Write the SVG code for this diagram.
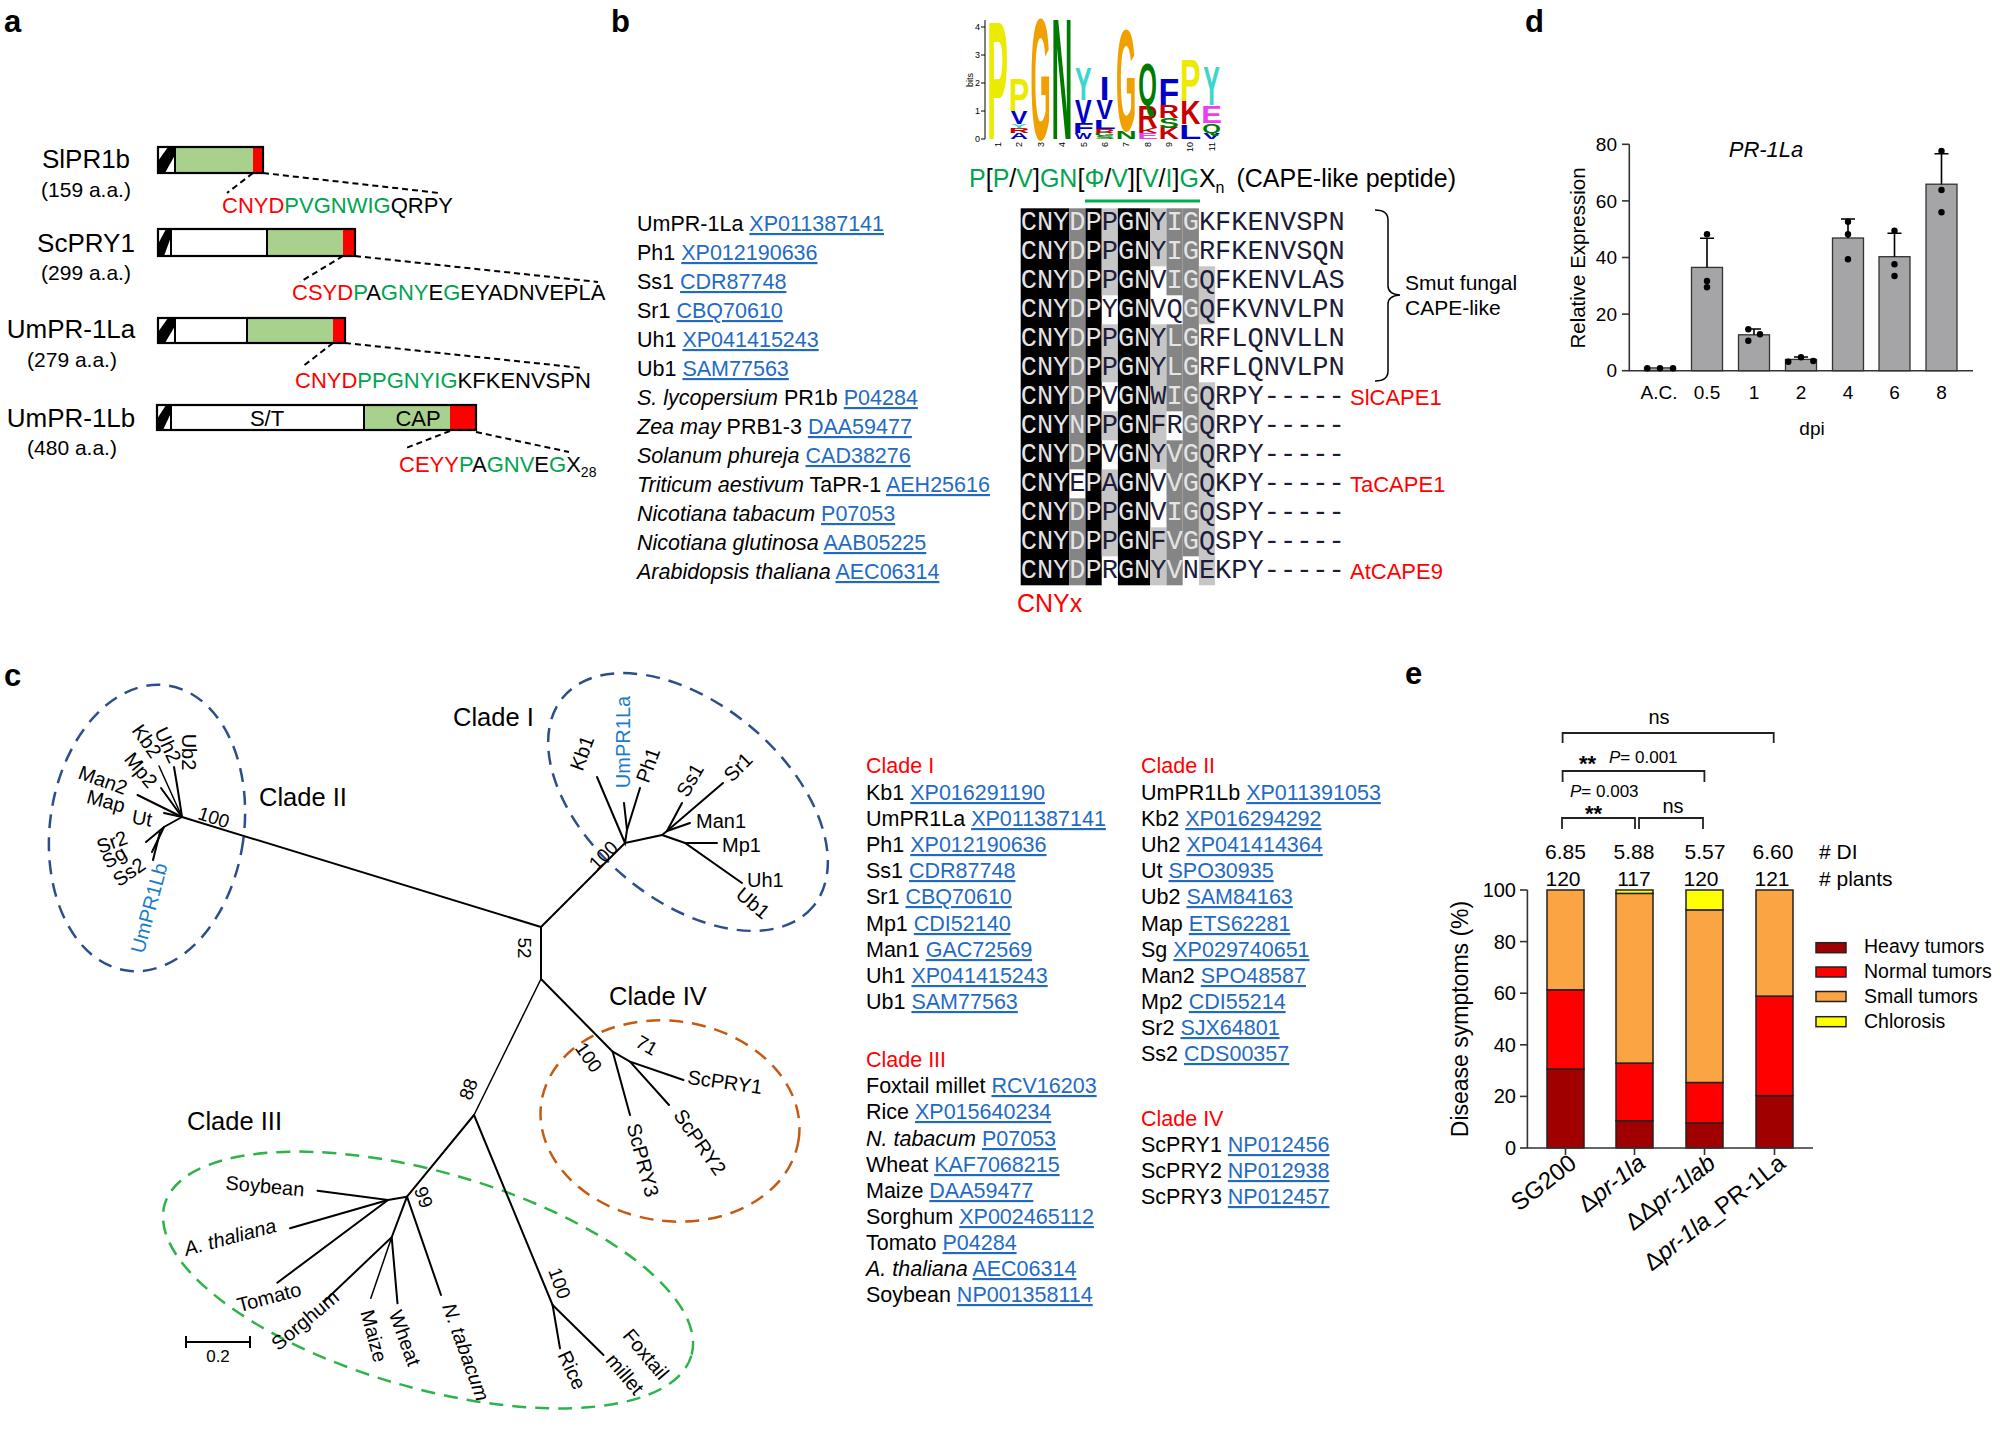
<svg xmlns="http://www.w3.org/2000/svg" width="2000" height="1430" viewBox="0 0 2000 1430">
<style>
text{font-family:"Liberation Sans",Arial,sans-serif;fill:#000}
.pl{font-weight:bold;font-size:31px}
.lab{font-size:26px}
.aa{font-size:21px}
.seq{font-size:22px}
.r{fill:#FF0000}
.g{fill:#00A550}
.bx{stroke:#000;stroke-width:2.2;fill:none}
.dsh{stroke:#000;stroke-width:2;stroke-dasharray:6 4;fill:none}
.lst{font-size:21.5px}
.lnk{fill:#1F6BC4;text-decoration:underline}
.it{font-style:italic}
text.mono{font-family:"Liberation Mono","Courier New",monospace;font-size:27px}
.lt1{fill:#E4E4E4}
.dk1{fill:#1C1C38}
.cB{fill:#000}
.cD{fill:#858585}
.cL{fill:#C6C6C6}
.logo{font-size:10px;font-weight:bold}
.ly{fill:#EBEB00}.lo{fill:#F0A000}.lg{fill:#007A00}.ltl{fill:#3CD6CC}.lb{fill:#0000C8}.lr{fill:#C80000}.lm{fill:#F03CF0}
.tiny{font-size:9px}
.tree{stroke:#000;stroke-width:2;fill:none;stroke-linecap:round}
.leaf{font-size:20px}
.clade{font-size:25.5px}
.boot{font-size:19px}
.blue{fill:#1A7CC8}
.ax{stroke:#333;stroke-width:1.6;fill:none}
.tk{font-size:19px}
.bar{fill:#A5A5A8;stroke:#333;stroke-width:1.3}
.eb{stroke:#000;stroke-width:1.6;fill:none}
.e20{font-size:20px}
.bk{stroke:#222;stroke-width:1.8;fill:none}
.hv{fill:#A00000}.nm{fill:#FF0000}.sm{fill:#FBA444}.ch{fill:#FFFF00}
.stk{stroke:#222;stroke-width:1.5}
</style>

<!-- panel labels -->
<text class="pl" x="4" y="32">a</text>
<text class="pl" x="611" y="32">b</text>
<text class="pl" x="1525" y="32">d</text>
<text class="pl" x="4" y="686">c</text>
<text class="pl" x="1405" y="684">e</text>

<!-- ===== Panel a ===== -->
<g id="a-slpr1b">
<text class="lab" x="86" y="168" text-anchor="middle">SlPR1b</text>
<text class="aa" x="86" y="197" text-anchor="middle">(159 a.a.)</text>
<rect x="158" y="147" width="17" height="26" fill="#fff"/>
<polygon points="158,173 158,161 168,147 175,147 175,155 165,173" fill="#000"/>
<rect x="175" y="147" width="78" height="26" fill="#A9D18E"/>
<rect x="253" y="147" width="10" height="26" fill="#FF0000"/>
<line x1="175" y1="147" x2="175" y2="173" stroke="#000" stroke-width="2"/>
<rect class="bx" x="158" y="147" width="105" height="26"/>
<line class="dsh" x1="253" y1="173" x2="227" y2="193"/>
<line class="dsh" x1="263" y1="173" x2="439" y2="193"/>
<text class="seq" x="222" y="213"><tspan class="r">CNYD</tspan><tspan class="g">PVGNWIG</tspan>QRPY</text>
</g>
<g id="a-scpry1">
<text class="lab" x="86" y="252" text-anchor="middle">ScPRY1</text>
<text class="aa" x="86" y="280" text-anchor="middle">(299 a.a.)</text>
<rect x="158" y="229" width="13" height="27" fill="#fff"/>
<polygon points="158,256 158,244 166,229 171,229 171,237 164,256" fill="#000"/>
<rect x="171" y="229" width="96" height="27" fill="#fff"/>
<rect x="267" y="229" width="76" height="27" fill="#A9D18E"/>
<rect x="343" y="229" width="12" height="27" fill="#FF0000"/>
<line x1="171" y1="229" x2="171" y2="256" stroke="#000" stroke-width="2"/>
<line x1="267" y1="229" x2="267" y2="256" stroke="#000" stroke-width="2"/>
<rect class="bx" x="158" y="229" width="197" height="27"/>
<line class="dsh" x1="343" y1="256" x2="300" y2="282"/>
<line class="dsh" x1="355" y1="256" x2="598" y2="282"/>
<text class="seq" x="292" y="300"><tspan class="r">CSYD</tspan><tspan class="g">P</tspan>A<tspan class="g">GNY</tspan>E<tspan class="g">G</tspan>EYADNVEPLA</text>
</g>
<g id="a-umpr1la">
<text class="lab" x="71" y="338" text-anchor="middle">UmPR-1La</text>
<text class="aa" x="72" y="367" text-anchor="middle">(279 a.a.)</text>
<rect x="158" y="318" width="17" height="25" fill="#fff"/>
<polygon points="158,343 158,332 168,318 175,318 175,326 165,343" fill="#000"/>
<rect x="175" y="318" width="72" height="25" fill="#fff"/>
<rect x="247" y="318" width="86" height="25" fill="#A9D18E"/>
<rect x="333" y="318" width="12" height="25" fill="#FF0000"/>
<line x1="175" y1="318" x2="175" y2="343" stroke="#000" stroke-width="2"/>
<line x1="247" y1="318" x2="247" y2="343" stroke="#000" stroke-width="2"/>
<rect class="bx" x="158" y="318" width="187" height="25"/>
<line class="dsh" x1="333" y1="343" x2="302" y2="367"/>
<line class="dsh" x1="345" y1="343" x2="582" y2="368"/>
<text class="seq" x="295" y="388"><tspan class="r">CNYD</tspan><tspan class="g">PPGNYIG</tspan>KFKENVSPN</text>
</g>
<g id="a-umpr1lb">
<text class="lab" x="71" y="427" text-anchor="middle">UmPR-1Lb</text>
<text class="aa" x="72" y="455" text-anchor="middle">(480 a.a.)</text>
<rect x="157" y="405" width="14" height="25" fill="#fff"/>
<polygon points="157,430 157,419 166,405 171,405 171,413 163,430" fill="#000"/>
<rect x="171" y="405" width="193" height="25" fill="#fff"/>
<rect x="364" y="405" width="86" height="25" fill="#A9D18E"/>
<rect x="450" y="405" width="26" height="25" fill="#FF0000"/>
<line x1="171" y1="405" x2="171" y2="430" stroke="#000" stroke-width="2"/>
<line x1="364" y1="405" x2="364" y2="430" stroke="#000" stroke-width="2"/>
<rect class="bx" x="157" y="405" width="319" height="25"/>
<text class="seq" x="267" y="426" text-anchor="middle">S/T</text>
<text class="seq" x="418" y="426" text-anchor="middle">CAP</text>
<line class="dsh" x1="450" y1="431" x2="406" y2="448"/>
<line class="dsh" x1="476" y1="432" x2="569" y2="452"/>
<text class="seq" x="399" y="472"><tspan class="r">CEYY</tspan><tspan class="g">P</tspan>A<tspan class="g">GNV</tspan>E<tspan class="g">G</tspan>X<tspan font-size="14" dy="5">28</tspan></text>
</g>

<!-- ===== Panel b: logo ===== -->
<g id="b-logo">
<line x1="985" y1="20" x2="985" y2="139" stroke="#000" stroke-width="1"/>
<g stroke="#000" stroke-width="1">
<line x1="981" y1="139" x2="985" y2="139"/><line x1="981" y1="111" x2="985" y2="111"/><line x1="981" y1="83" x2="985" y2="83"/><line x1="981" y1="55" x2="985" y2="55"/><line x1="981" y1="27" x2="985" y2="27"/>
</g>
<g class="tiny" text-anchor="end">
<text x="980" y="142">0</text><text x="980" y="114">1</text><text x="980" y="86">2</text><text x="980" y="58">3</text><text x="980" y="30">4</text>
</g>
<text class="tiny" transform="translate(973,80) rotate(-90)" text-anchor="middle">bits</text>
<g class="tiny" text-anchor="end">
<text transform="translate(1001,142) rotate(-90)">1</text>
<text transform="translate(1022,142) rotate(-90)">2</text>
<text transform="translate(1044,142) rotate(-90)">3</text>
<text transform="translate(1065,142) rotate(-90)">4</text>
<text transform="translate(1087,142) rotate(-90)">5</text>
<text transform="translate(1108,142) rotate(-90)">6</text>
<text transform="translate(1129,142) rotate(-90)">7</text>
<text transform="translate(1151,142) rotate(-90)">8</text>
<text transform="translate(1172,142) rotate(-90)">9</text>
<text transform="translate(1193,142) rotate(-90)">10</text>
<text transform="translate(1215,142) rotate(-90)">11</text>
</g>
<g class="logo" text-anchor="middle">
<text class="ly" transform="translate(997.7,139) scale(3.1,16.8)">P</text>
<text class="lb" transform="translate(1019.1,139) scale(2.5,0.88)">A</text>
<text class="lr" transform="translate(1019.1,132.8) scale(2.8,0.72)">R</text>
<text class="ltl" transform="translate(1019.1,127.8) scale(2.5,0.6)">Y</text>
<text class="lb" transform="translate(1019.1,123.6) scale(2.5,1.8)">V</text>
<text class="ly" transform="translate(1019.1,111) scale(3.1,4.6)">P</text>
<text class="lo" transform="translate(1040.5,139) scale(2.6,17.2)">G</text>
<text class="lg" transform="translate(1061.9,139) scale(2.9,17.2)">N</text>
<text class="lb" transform="translate(1083.3,139) scale(1.8,0.88)">W</text>
<text class="lb" transform="translate(1083.3,132.8) scale(3.4,1.44)">F</text>
<text class="lb" transform="translate(1083.3,122.8) scale(2.5,3.28)">V</text>
<text class="ltl" transform="translate(1083.3,99.8) scale(2.5,4.6)">Y</text>
<text class="lg" transform="translate(1104.7,139) scale(3,0.4)">S</text>
<text class="lg" transform="translate(1104.7,136.2) scale(2.6,0.48)">G</text>
<text class="lr" transform="translate(1104.7,132.8) scale(2.8,0.56)">R</text>
<text class="lb" transform="translate(1104.7,128.9) scale(3.6,1.36)">L</text>
<text class="lb" transform="translate(1104.7,119.4) scale(2.5,2.8)">V</text>
<text class="lb" transform="translate(1104.7,99.8) scale(3.5,3.4)">I</text>
<text class="lg" transform="translate(1126.1,139) scale(2.9,1.12)">N</text>
<text class="lo" transform="translate(1126.1,131.2) scale(2.6,14.48)">G</text>
<text class="lm" transform="translate(1147.5,139) scale(3.1,0.88)">E</text>
<text class="lr" transform="translate(1147.5,132.8) scale(2.8,0.72)">K</text>
<text class="lr" transform="translate(1147.5,127.8) scale(2.8,3.2)">R</text>
<text class="lg" transform="translate(1147.5,105.4) scale(2.4,6.0)">Q</text>
<text class="lr" transform="translate(1168.9,139) scale(2.8,1.6)">K</text>
<text class="lg" transform="translate(1168.9,127.8) scale(3,1.4)">S</text>
<text class="lr" transform="translate(1168.9,118) scale(2.8,1.8)">R</text>
<text class="lb" transform="translate(1168.9,105.4) scale(3.4,3.6)">F</text>
<text class="lb" transform="translate(1190.3,139) scale(3.6,2.08)">L</text>
<text class="lr" transform="translate(1190.3,124.4) scale(2.8,3.32)">K</text>
<text class="ly" transform="translate(1190.3,101.2) scale(3.1,6)">P</text>
<text class="lb" transform="translate(1211.7,139) scale(2.5,0.88)">V</text>
<text class="lg" transform="translate(1211.7,132.8) scale(2.4,1.3)">Q</text>
<text class="lm" transform="translate(1211.7,122.8) scale(3.1,2.48)">E</text>
<text class="ltl" transform="translate(1211.7,105.4) scale(2.5,5.6)">Y</text>
</g>
</g>

<g id="b-motif">
<text x="969" y="187" font-size="25"><tspan class="g">P</tspan>[<tspan class="g">P</tspan>/<tspan class="g">V</tspan>]<tspan class="g">GN</tspan>[<tspan class="g">Φ</tspan>/<tspan class="g">V</tspan>][<tspan class="g">V</tspan>/<tspan class="g">I</tspan>]<tspan class="g">G</tspan>X<tspan font-size="16" dy="6">n</tspan><tspan dy="-6" dx="12">(CAPE-like peptide)</tspan></text>
<line x1="1085" y1="201" x2="1200" y2="201" stroke="#00B050" stroke-width="3"/>
</g>

<g id="b-list" class="lst">
<text x="637" y="231">UmPR-1La <tspan class="lnk">XP011387141</tspan></text>
<text x="637" y="260">Ph1 <tspan class="lnk">XP012190636</tspan></text>
<text x="637" y="289">Ss1 <tspan class="lnk">CDR87748</tspan></text>
<text x="637" y="318">Sr1 <tspan class="lnk">CBQ70610</tspan></text>
<text x="637" y="347">Uh1 <tspan class="lnk">XP041415243</tspan></text>
<text x="637" y="376">Ub1 <tspan class="lnk">SAM77563</tspan></text>
<text x="637" y="405"><tspan class="it">S. lycopersium</tspan> PR1b <tspan class="lnk">P04284</tspan></text>
<text x="637" y="434"><tspan class="it">Zea may</tspan> PRB1-3 <tspan class="lnk">DAA59477</tspan></text>
<text x="637" y="463"><tspan class="it">Solanum phureja</tspan> <tspan class="lnk">CAD38276</tspan></text>
<text x="637" y="492"><tspan class="it">Triticum aestivum</tspan> TaPR-1 <tspan class="lnk">AEH25616</tspan></text>
<text x="637" y="521"><tspan class="it">Nicotiana tabacum</tspan> <tspan class="lnk">P07053</tspan></text>
<text x="637" y="550"><tspan class="it">Nicotiana glutinosa</tspan> <tspan class="lnk">AAB05225</tspan></text>
<text x="637" y="579"><tspan class="it">Arabidopsis thaliana</tspan> <tspan class="lnk">AEC06314</tspan></text>
</g>

<g id="b-alignment">
<rect class="cB" x="1020.7" y="208.3" width="48.6" height="377"/>
<rect class="cD" x="1069.3" y="208.3" width="16.2" height="261"/>
<rect class="cD" x="1069.3" y="498.3" width="16.2" height="87"/>
<rect class="cB" x="1085.5" y="208.3" width="16.2" height="377"/>
<rect class="cL" x="1101.7" y="208.3" width="16.2" height="87"/>
<rect class="cL" x="1101.7" y="324.3" width="16.2" height="58"/>
<rect class="cL" x="1101.7" y="411.3" width="16.2" height="29"/>
<rect class="cL" x="1101.7" y="469.3" width="16.2" height="87"/>
<rect class="cB" x="1117.9" y="208.3" width="32.4" height="377"/>
<rect class="cL" x="1150.3" y="208.3" width="16.2" height="58"/>
<rect class="cL" x="1150.3" y="324.3" width="16.2" height="145"/>
<rect class="cL" x="1150.3" y="527.3" width="16.2" height="58"/>
<rect class="cD" x="1166.5" y="208.3" width="16.2" height="87"/>
<rect class="cD" x="1166.5" y="324.3" width="16.2" height="87"/>
<rect class="cD" x="1166.5" y="440.3" width="16.2" height="145"/>
<rect class="cD" x="1182.7" y="208.3" width="16.2" height="348"/>
<rect class="cL" x="1198.9" y="266.3" width="16.2" height="58"/>
<rect class="cL" x="1198.9" y="382.3" width="16.2" height="203"/>
<g>
<text class="mono" x="1020.7" y="230.3"><tspan class="lt1">CNYDP</tspan><tspan class="dk1">P</tspan><tspan class="lt1">GN</tspan><tspan class="dk1">Y</tspan><tspan class="lt1">IG</tspan><tspan class="dk1">KFKENVSPN</tspan></text>
<text class="mono" x="1020.7" y="259.3"><tspan class="lt1">CNYDP</tspan><tspan class="dk1">P</tspan><tspan class="lt1">GN</tspan><tspan class="dk1">Y</tspan><tspan class="lt1">IG</tspan><tspan class="dk1">RFKENVSQN</tspan></text>
<text class="mono" x="1020.7" y="288.3"><tspan class="lt1">CNYDP</tspan><tspan class="dk1">P</tspan><tspan class="lt1">GN</tspan><tspan class="dk1">V</tspan><tspan class="lt1">IG</tspan><tspan class="dk1">QFKENVLAS</tspan></text>
<text class="mono" x="1020.7" y="317.3"><tspan class="lt1">CNYDP</tspan><tspan class="dk1">Y</tspan><tspan class="lt1">GN</tspan><tspan class="dk1">VQ</tspan><tspan class="lt1">G</tspan><tspan class="dk1">QFKVNVLPN</tspan></text>
<text class="mono" x="1020.7" y="346.3"><tspan class="lt1">CNYDP</tspan><tspan class="dk1">P</tspan><tspan class="lt1">GN</tspan><tspan class="dk1">Y</tspan><tspan class="lt1">LG</tspan><tspan class="dk1">RFLQNVLLN</tspan></text>
<text class="mono" x="1020.7" y="375.3"><tspan class="lt1">CNYDP</tspan><tspan class="dk1">P</tspan><tspan class="lt1">GN</tspan><tspan class="dk1">Y</tspan><tspan class="lt1">LG</tspan><tspan class="dk1">RFLQNVLPN</tspan></text>
<text class="mono" x="1020.7" y="404.3"><tspan class="lt1">CNYDP</tspan><tspan class="dk1">V</tspan><tspan class="lt1">GN</tspan><tspan class="dk1">W</tspan><tspan class="lt1">IG</tspan><tspan class="dk1">QRPY-----</tspan></text>
<text class="mono" x="1020.7" y="433.3"><tspan class="lt1">CNYNP</tspan><tspan class="dk1">P</tspan><tspan class="lt1">GN</tspan><tspan class="dk1">FR</tspan><tspan class="lt1">G</tspan><tspan class="dk1">QRPY-----</tspan></text>
<text class="mono" x="1020.7" y="462.3"><tspan class="lt1">CNYDP</tspan><tspan class="dk1">V</tspan><tspan class="lt1">GN</tspan><tspan class="dk1">Y</tspan><tspan class="lt1">VG</tspan><tspan class="dk1">QRPY-----</tspan></text>
<text class="mono" x="1020.7" y="491.3"><tspan class="lt1">CNY</tspan><tspan class="dk1">E</tspan><tspan class="lt1">P</tspan><tspan class="dk1">A</tspan><tspan class="lt1">GN</tspan><tspan class="dk1">V</tspan><tspan class="lt1">VG</tspan><tspan class="dk1">QKPY-----</tspan></text>
<text class="mono" x="1020.7" y="520.3"><tspan class="lt1">CNYDP</tspan><tspan class="dk1">P</tspan><tspan class="lt1">GN</tspan><tspan class="dk1">V</tspan><tspan class="lt1">IG</tspan><tspan class="dk1">QSPY-----</tspan></text>
<text class="mono" x="1020.7" y="549.3"><tspan class="lt1">CNYDP</tspan><tspan class="dk1">P</tspan><tspan class="lt1">GN</tspan><tspan class="dk1">F</tspan><tspan class="lt1">VG</tspan><tspan class="dk1">QSPY-----</tspan></text>
<text class="mono" x="1020.7" y="578.3"><tspan class="lt1">CNYDP</tspan><tspan class="dk1">R</tspan><tspan class="lt1">GN</tspan><tspan class="dk1">Y</tspan><tspan class="lt1">V</tspan><tspan class="dk1">NEKPY-----</tspan></text>
</g>
<text x="1017" y="612" font-size="25" class="r">CNYx</text>
<text x="1350" y="405" font-size="22" class="r">SlCAPE1</text>
<text x="1350" y="492" font-size="22" class="r">TaCAPE1</text>
<text x="1350" y="579" font-size="22" class="r">AtCAPE9</text>
<path d="M1375,210 Q1388,210 1388,220 L1388,286 Q1388,294 1400,295 Q1388,296 1388,304 L1388,371 Q1388,381 1375,381" stroke="#000" stroke-width="1.5" fill="none"/>
<text x="1405" y="290" font-size="21">Smut fungal</text>
<text x="1405" y="315" font-size="21">CAPE-like</text>
</g>

<!-- ===== Panel d ===== -->
<g id="d-chart">
<text x="1766" y="157" font-size="22" class="it" text-anchor="middle">PR-1La</text>
<polyline class="ax" points="1629.3,144.3 1629.3,370.7 1973,370.7"/>
<g class="ax">
<line x1="1622" y1="370.7" x2="1629.3" y2="370.7"/><line x1="1622" y1="314.1" x2="1629.3" y2="314.1"/><line x1="1622" y1="257.5" x2="1629.3" y2="257.5"/><line x1="1622" y1="200.9" x2="1629.3" y2="200.9"/><line x1="1622" y1="144.3" x2="1629.3" y2="144.3"/>
</g>
<g class="tk" text-anchor="end">
<text x="1617" y="377">0</text><text x="1617" y="321">20</text><text x="1617" y="264">40</text><text x="1617" y="208">60</text><text x="1617" y="151">80</text>
</g>
<text transform="translate(1585,258) rotate(-90)" font-size="20.5" text-anchor="middle">Relative Expression</text>
<rect class="bar" x="1644.5" y="367.9" width="31" height="2.8"/>
<rect class="bar" x="1691.5" y="267.4" width="31" height="103.3"/>
<rect class="bar" x="1738.5" y="334.8" width="31" height="35.9"/>
<rect class="bar" x="1785.5" y="359.4" width="31" height="11.3"/>
<rect class="bar" x="1832.5" y="238" width="31" height="132.7"/>
<rect class="bar" x="1879" y="256.7" width="31" height="114"/>
<rect class="bar" x="1926" y="184.2" width="31" height="186.5"/>
<g class="eb">
<path d="M1707,267.4 V238.3 M1700,238.3 H1714"/>
<path d="M1754,334.8 V329 M1747,329 H1761"/>
<path d="M1801,359.4 V357 M1794,357 H1808"/>
<path d="M1848,238 V219 M1841,219 H1855"/>
<path d="M1894.5,256.7 V233.3 M1887.5,233.3 H1901.5"/>
<path d="M1941.5,184.2 V153.7 M1934.5,153.7 H1948.5"/>
</g>
<g fill="#000">
<circle cx="1647.3" cy="368.3" r="3.2"/><circle cx="1660" cy="368.3" r="3.2"/><circle cx="1673" cy="368.3" r="3.2"/>
<circle cx="1707" cy="234.3" r="3.2"/><circle cx="1707" cy="281" r="3.2"/><circle cx="1707" cy="287.3" r="3.2"/>
<circle cx="1748.3" cy="329.3" r="3.2"/><circle cx="1748.3" cy="340.7" r="3.2"/><circle cx="1760" cy="334.3" r="3.2"/>
<circle cx="1788.3" cy="361.7" r="3.2"/><circle cx="1801" cy="357.3" r="3.2"/><circle cx="1813.3" cy="361" r="3.2"/>
<circle cx="1848" cy="221.7" r="3.2"/><circle cx="1848" cy="234.3" r="3.2"/><circle cx="1848" cy="259.3" r="3.2"/>
<circle cx="1894.5" cy="230.7" r="3.2"/><circle cx="1894.5" cy="264.3" r="3.2"/><circle cx="1894.5" cy="276" r="3.2"/>
<circle cx="1941.5" cy="151" r="3.2"/><circle cx="1941.5" cy="190" r="3.2"/><circle cx="1941.5" cy="212.3" r="3.2"/>
</g>
<g class="tk" text-anchor="middle">
<text x="1659" y="399">A.C.</text><text x="1707" y="399">0.5</text><text x="1754" y="399">1</text><text x="1801" y="399">2</text><text x="1848" y="399">4</text><text x="1894.5" y="399">6</text><text x="1941.5" y="399">8</text>
</g>
<text x="1812" y="435" class="tk" text-anchor="middle">dpi</text>
</g>

<!-- ===== Panel c: tree ===== -->
<g id="c-ellipses" fill="none" stroke-width="2.5" stroke-dasharray="14 9">
<ellipse cx="688" cy="802" rx="163" ry="98" transform="rotate(40 688 802)" stroke="#2C4E8A"/>
<ellipse cx="147" cy="828" rx="97" ry="144" transform="rotate(8 147 828)" stroke="#2C4E8A"/>
<ellipse cx="670" cy="1121" rx="130" ry="100" transform="rotate(8 670 1121)" stroke="#C55A11"/>
<ellipse cx="428" cy="1280" rx="274" ry="108" transform="rotate(16 428 1280)" stroke="#2DB34A"/>
</g>
<g id="c-branches" class="tree">
<line x1="182" y1="817" x2="541" y2="927"/>
<line x1="541" y1="927" x2="541" y2="979"/>
<line x1="541" y1="927" x2="625" y2="843"/>
<line x1="541" y1="979" x2="612.7" y2="1051.7"/>
<line x1="541" y1="979" x2="474" y2="1115" stroke-width="1.5"/>
<polyline points="597,777 625,843 627,830 624,803"/>
<line x1="627" y1="830" x2="640" y2="788"/>
<polyline points="625,843 662,835 667,831 682,803"/>
<line x1="667" y1="831" x2="723" y2="783"/>
<line x1="667" y1="831" x2="690" y2="823"/>
<polyline points="662,835 685,843 742,883"/>
<line x1="685" y1="843" x2="717" y2="843"/>
<path d="M182,817 Q178,790 174,767"/>
<line x1="182" y1="817" x2="159" y2="766" stroke-width="1.5"/>
<line x1="182" y1="817" x2="161" y2="788"/>
<line x1="182" y1="817" x2="137.5" y2="795"/>
<line x1="182" y1="817" x2="164" y2="813"/>
<polyline points="182,817 164,827 146,842"/>
<line x1="164" y1="827" x2="152" y2="852"/>
<line x1="160" y1="832" x2="153" y2="860"/>
<polyline points="612.7,1051.7 630,1061.7 683.5,1080"/>
<line x1="630" y1="1061.7" x2="669" y2="1105"/>
<line x1="612.7" y1="1051.7" x2="630" y2="1115"/>
<line x1="474" y1="1115" x2="407" y2="1196.7"/>
<polyline points="407,1196.7 388,1200 317.5,1190.7"/>
<line x1="388" y1="1200" x2="290" y2="1228.3"/>
<line x1="388" y1="1200" x2="277.3" y2="1282.7"/>
<polyline points="407,1196.7 391.7,1237.3 323.8,1301.7"/>
<line x1="391.7" y1="1237.3" x2="370.8" y2="1298.3" stroke-width="1.5"/>
<line x1="391.7" y1="1237.3" x2="397.5" y2="1303.3"/>
<line x1="407" y1="1196.7" x2="441" y2="1295"/>
<line x1="474" y1="1115" x2="552.6" y2="1305"/>
<line x1="552.6" y1="1305" x2="560" y2="1348.3"/>
<line x1="552.6" y1="1305" x2="603.5" y2="1355"/>
</g>
<g id="c-labels">
<text class="clade" x="453" y="726">Clade I</text>
<text class="clade" x="259" y="806">Clade II</text>
<text class="clade" x="187" y="1130">Clade III</text>
<text class="clade" x="609" y="1005">Clade IV</text>
<g class="boot" text-anchor="middle">
<text transform="translate(214,817) rotate(18)" y="7">100</text>
<text transform="translate(603,855) rotate(-45)" y="7">100</text>
<text transform="translate(525,948) rotate(90)" y="7">52</text>
<text transform="translate(589,1057) rotate(55)" y="7">100</text>
<text transform="translate(647,1045) rotate(30)" y="7">71</text>
<text transform="translate(468,1089) rotate(-70)" y="7">88</text>
<text transform="translate(424,1197) rotate(70)" y="7">99</text>
<text transform="translate(560,1283) rotate(70)" y="7">100</text>
</g>
<g class="leaf" text-anchor="middle">
<text transform="translate(189,752) rotate(90)" y="7">Ub2</text>
<text transform="translate(168,745) rotate(65)" y="7">Uh2</text>
<text transform="translate(147,741) rotate(55)" y="7">Kb2</text>
<text transform="translate(141,770) rotate(50)" y="7">Mp2</text>
<text transform="translate(103,780) rotate(20)" y="7">Man2</text>
<text transform="translate(106,801) rotate(15)" y="7">Map</text>
<text transform="translate(142,818) rotate(10)" y="7">Ut</text>
<text transform="translate(112,842) rotate(-20)" y="7">Sr2</text>
<text transform="translate(114,857) rotate(-30)" y="7">Sg</text>
<text transform="translate(129,872) rotate(-35)" y="7">Ss2</text>
<text class="blue" transform="translate(149,908) rotate(-75)" y="7">UmPR1Lb</text>
<text transform="translate(582,753) rotate(-70)" y="7">Kb1</text>
<text class="blue" transform="translate(623,742) rotate(-90)" y="7">UmPR1La</text>
<text transform="translate(648,765) rotate(-70)" y="7">Ph1</text>
<text transform="translate(690,780) rotate(-60)" y="7">Ss1</text>
<text transform="translate(738,767) rotate(-45)" y="7">Sr1</text>
<text transform="translate(753,903) rotate(40)" y="7">Ub1</text>
<text transform="translate(725,1082) rotate(8)" y="7">ScPRY1</text>
<text transform="translate(700,1142) rotate(55)" y="7">ScPRY2</text>
<text transform="translate(643,1160) rotate(75)" y="7">ScPRY3</text>
<text transform="translate(265,1186) rotate(5)" y="7">Soybean</text>
<text class="it" transform="translate(230,1237) rotate(-15)" y="7">A. thaliana</text>
<text transform="translate(269,1297) rotate(-15)" y="7">Tomato</text>
<text transform="translate(305,1320) rotate(-40)" y="7">Sorghum</text>
<text transform="translate(374,1336) rotate(75)" y="7">Maize</text>
<text transform="translate(405,1338) rotate(70)" y="7">Wheat</text>
<text class="it" transform="translate(466,1352) rotate(70)" y="7">N. tabacum</text>
<text transform="translate(572,1370) rotate(65)" y="7">Rice</text>
<text transform="translate(646,1354) rotate(50)" y="7">Foxtail</text>
<text transform="translate(625,1374) rotate(50)" y="7">millet</text>
</g>
<g class="leaf">
<text x="696" y="828">Man1</text>
<text x="722" y="852">Mp1</text>
<text x="747" y="887">Uh1</text>
</g>
<g id="c-scale">
<path d="M186,1342 H250 M186,1336 V1348 M250,1336 V1348" stroke="#000" stroke-width="2"/>
<text x="218" y="1362" font-size="17" text-anchor="middle">0.2</text>
</g>
</g>

<g id="c-list" class="lst">
<text x="866" y="773" class="r">Clade I</text>
<text x="866" y="800">Kb1 <tspan class="lnk">XP016291190</tspan></text>
<text x="866" y="826">UmPR1La <tspan class="lnk">XP011387141</tspan></text>
<text x="866" y="852">Ph1 <tspan class="lnk">XP012190636</tspan></text>
<text x="866" y="878">Ss1 <tspan class="lnk">CDR87748</tspan></text>
<text x="866" y="904">Sr1 <tspan class="lnk">CBQ70610</tspan></text>
<text x="866" y="931">Mp1 <tspan class="lnk">CDI52140</tspan></text>
<text x="866" y="957">Man1 <tspan class="lnk">GAC72569</tspan></text>
<text x="866" y="983">Uh1 <tspan class="lnk">XP041415243</tspan></text>
<text x="866" y="1009">Ub1 <tspan class="lnk">SAM77563</tspan></text>
<text x="866" y="1067" class="r">Clade III</text>
<text x="866" y="1093">Foxtail millet <tspan class="lnk">RCV16203</tspan></text>
<text x="866" y="1119">Rice <tspan class="lnk">XP015640234</tspan></text>
<text x="866" y="1146"><tspan class="it">N. tabacum</tspan> <tspan class="lnk">P07053</tspan></text>
<text x="866" y="1172">Wheat <tspan class="lnk">KAF7068215</tspan></text>
<text x="866" y="1198">Maize <tspan class="lnk">DAA59477</tspan></text>
<text x="866" y="1224">Sorghum <tspan class="lnk">XP002465112</tspan></text>
<text x="866" y="1250">Tomato <tspan class="lnk">P04284</tspan></text>
<text x="866" y="1276"><tspan class="it">A. thaliana</tspan> <tspan class="lnk">AEC06314</tspan></text>
<text x="866" y="1302">Soybean <tspan class="lnk">NP001358114</tspan></text>
<text x="1141" y="773" class="r">Clade II</text>
<text x="1141" y="800">UmPR1Lb <tspan class="lnk">XP011391053</tspan></text>
<text x="1141" y="826">Kb2 <tspan class="lnk">XP016294292</tspan></text>
<text x="1141" y="852">Uh2 <tspan class="lnk">XP041414364</tspan></text>
<text x="1141" y="878">Ut <tspan class="lnk">SPO30935</tspan></text>
<text x="1141" y="904">Ub2 <tspan class="lnk">SAM84163</tspan></text>
<text x="1141" y="931">Map <tspan class="lnk">ETS62281</tspan></text>
<text x="1141" y="957">Sg <tspan class="lnk">XP029740651</tspan></text>
<text x="1141" y="983">Man2 <tspan class="lnk">SPO48587</tspan></text>
<text x="1141" y="1009">Mp2 <tspan class="lnk">CDI55214</tspan></text>
<text x="1141" y="1035">Sr2 <tspan class="lnk">SJX64801</tspan></text>
<text x="1141" y="1061">Ss2 <tspan class="lnk">CDS00357</tspan></text>
<text x="1141" y="1126" class="r">Clade IV</text>
<text x="1141" y="1152">ScPRY1 <tspan class="lnk">NP012456</tspan></text>
<text x="1141" y="1178">ScPRY2 <tspan class="lnk">NP012938</tspan></text>
<text x="1141" y="1204">ScPRY3 <tspan class="lnk">NP012457</tspan></text>
</g>

<!-- ===== Panel e ===== -->
<g id="e-chart">
<g class="stk">
<rect class="hv" x="1547" y="1069" width="37" height="79"/>
<rect class="nm" x="1547" y="989.8" width="37" height="79.2"/>
<rect class="sm" x="1547" y="890" width="37" height="99.8"/>
<rect class="hv" x="1616" y="1120.7" width="37" height="27.3"/>
<rect class="nm" x="1616" y="1063.1" width="37" height="57.6"/>
<rect class="sm" x="1616" y="893.4" width="37" height="169.7"/>
<rect class="ch" x="1616" y="890" width="37" height="3.4"/>
<rect class="hv" x="1686" y="1123" width="37" height="25"/>
<rect class="nm" x="1686" y="1082.5" width="37" height="40.5"/>
<rect class="sm" x="1686" y="909.9" width="37" height="172.6"/>
<rect class="ch" x="1686" y="890" width="37" height="19.9"/>
<rect class="hv" x="1756" y="1095.6" width="37" height="52.4"/>
<rect class="nm" x="1756" y="996.1" width="37" height="99.5"/>
<rect class="sm" x="1756" y="890" width="37" height="106.1"/>
</g>
<polyline class="ax" points="1527.4,890 1527.4,1148 1813,1148"/>
<g class="ax">
<line x1="1520" y1="1148" x2="1527.4" y2="1148"/><line x1="1520" y1="1096.4" x2="1527.4" y2="1096.4"/><line x1="1520" y1="1044.8" x2="1527.4" y2="1044.8"/><line x1="1520" y1="993.2" x2="1527.4" y2="993.2"/><line x1="1520" y1="941.6" x2="1527.4" y2="941.6"/><line x1="1520" y1="890" x2="1527.4" y2="890"/>
<line x1="1565.5" y1="1148" x2="1565.5" y2="1155"/><line x1="1634.5" y1="1148" x2="1634.5" y2="1155"/><line x1="1704.5" y1="1148" x2="1704.5" y2="1155"/><line x1="1774.5" y1="1148" x2="1774.5" y2="1155"/>
</g>
<g class="e20" text-anchor="end">
<text x="1516" y="1155">0</text><text x="1516" y="1103.4">20</text><text x="1516" y="1051.8">40</text><text x="1516" y="1000.2">60</text><text x="1516" y="948.6">80</text><text x="1516" y="897">100</text>
</g>
<text transform="translate(1468,1019) rotate(-90)" font-size="23" text-anchor="middle">Disease symptoms (%)</text>
<g font-size="21" text-anchor="middle">
<text x="1565.5" y="859">6.85</text><text x="1634" y="859">5.88</text><text x="1705" y="859">5.57</text><text x="1773" y="859">6.60</text>
<text x="1563" y="886">120</text><text x="1634" y="886">117</text><text x="1701" y="886">120</text><text x="1772" y="886">121</text>
</g>
<text x="1819" y="859" font-size="21"># DI</text>
<text x="1819" y="886" font-size="21"># plants</text>
<path class="bk" d="M1562,829 V818 H1635 V829 M1639,829 V818 H1703 V829 M1562.6,782 V771 H1704.4 V782 M1562.6,743 V733 H1773.7 V743"/>
<text x="1659" y="724" class="e20" text-anchor="middle">ns</text>
<text x="1579" y="771" font-size="22" font-weight="bold">**</text>
<text x="1609" y="763" font-size="17"><tspan class="it">P</tspan>= 0.001</text>
<text x="1570" y="797" font-size="17"><tspan class="it">P</tspan>= 0.003</text>
<text x="1585" y="821" font-size="22" font-weight="bold">**</text>
<text x="1673" y="813" class="e20" text-anchor="middle">ns</text>
<g font-size="24" text-anchor="end">
<text transform="translate(1578,1166) rotate(-38)">SG200</text>
<text transform="translate(1647,1166) rotate(-38)">Δ<tspan class="it">pr-1la</tspan></text>
<text transform="translate(1717,1166) rotate(-38)">ΔΔ<tspan class="it">pr-1lab</tspan></text>
<text transform="translate(1787,1166) rotate(-38)">Δ<tspan class="it">pr-1la</tspan>_PR-1La</text>
</g>
<g id="e-legend">
<rect class="hv stk" x="1816" y="942.7" width="30" height="10"/>
<rect class="nm stk" x="1816" y="967" width="30" height="10"/>
<rect class="sm stk" x="1816" y="991.5" width="30" height="10"/>
<rect class="ch stk" x="1816" y="1016.7" width="30" height="10"/>
<g font-size="19.5">
<text x="1864" y="953">Heavy tumors</text>
<text x="1864" y="978">Normal tumors</text>
<text x="1864" y="1003">Small tumors</text>
<text x="1864" y="1028">Chlorosis</text>
</g>
</g>
</g>
</svg>
